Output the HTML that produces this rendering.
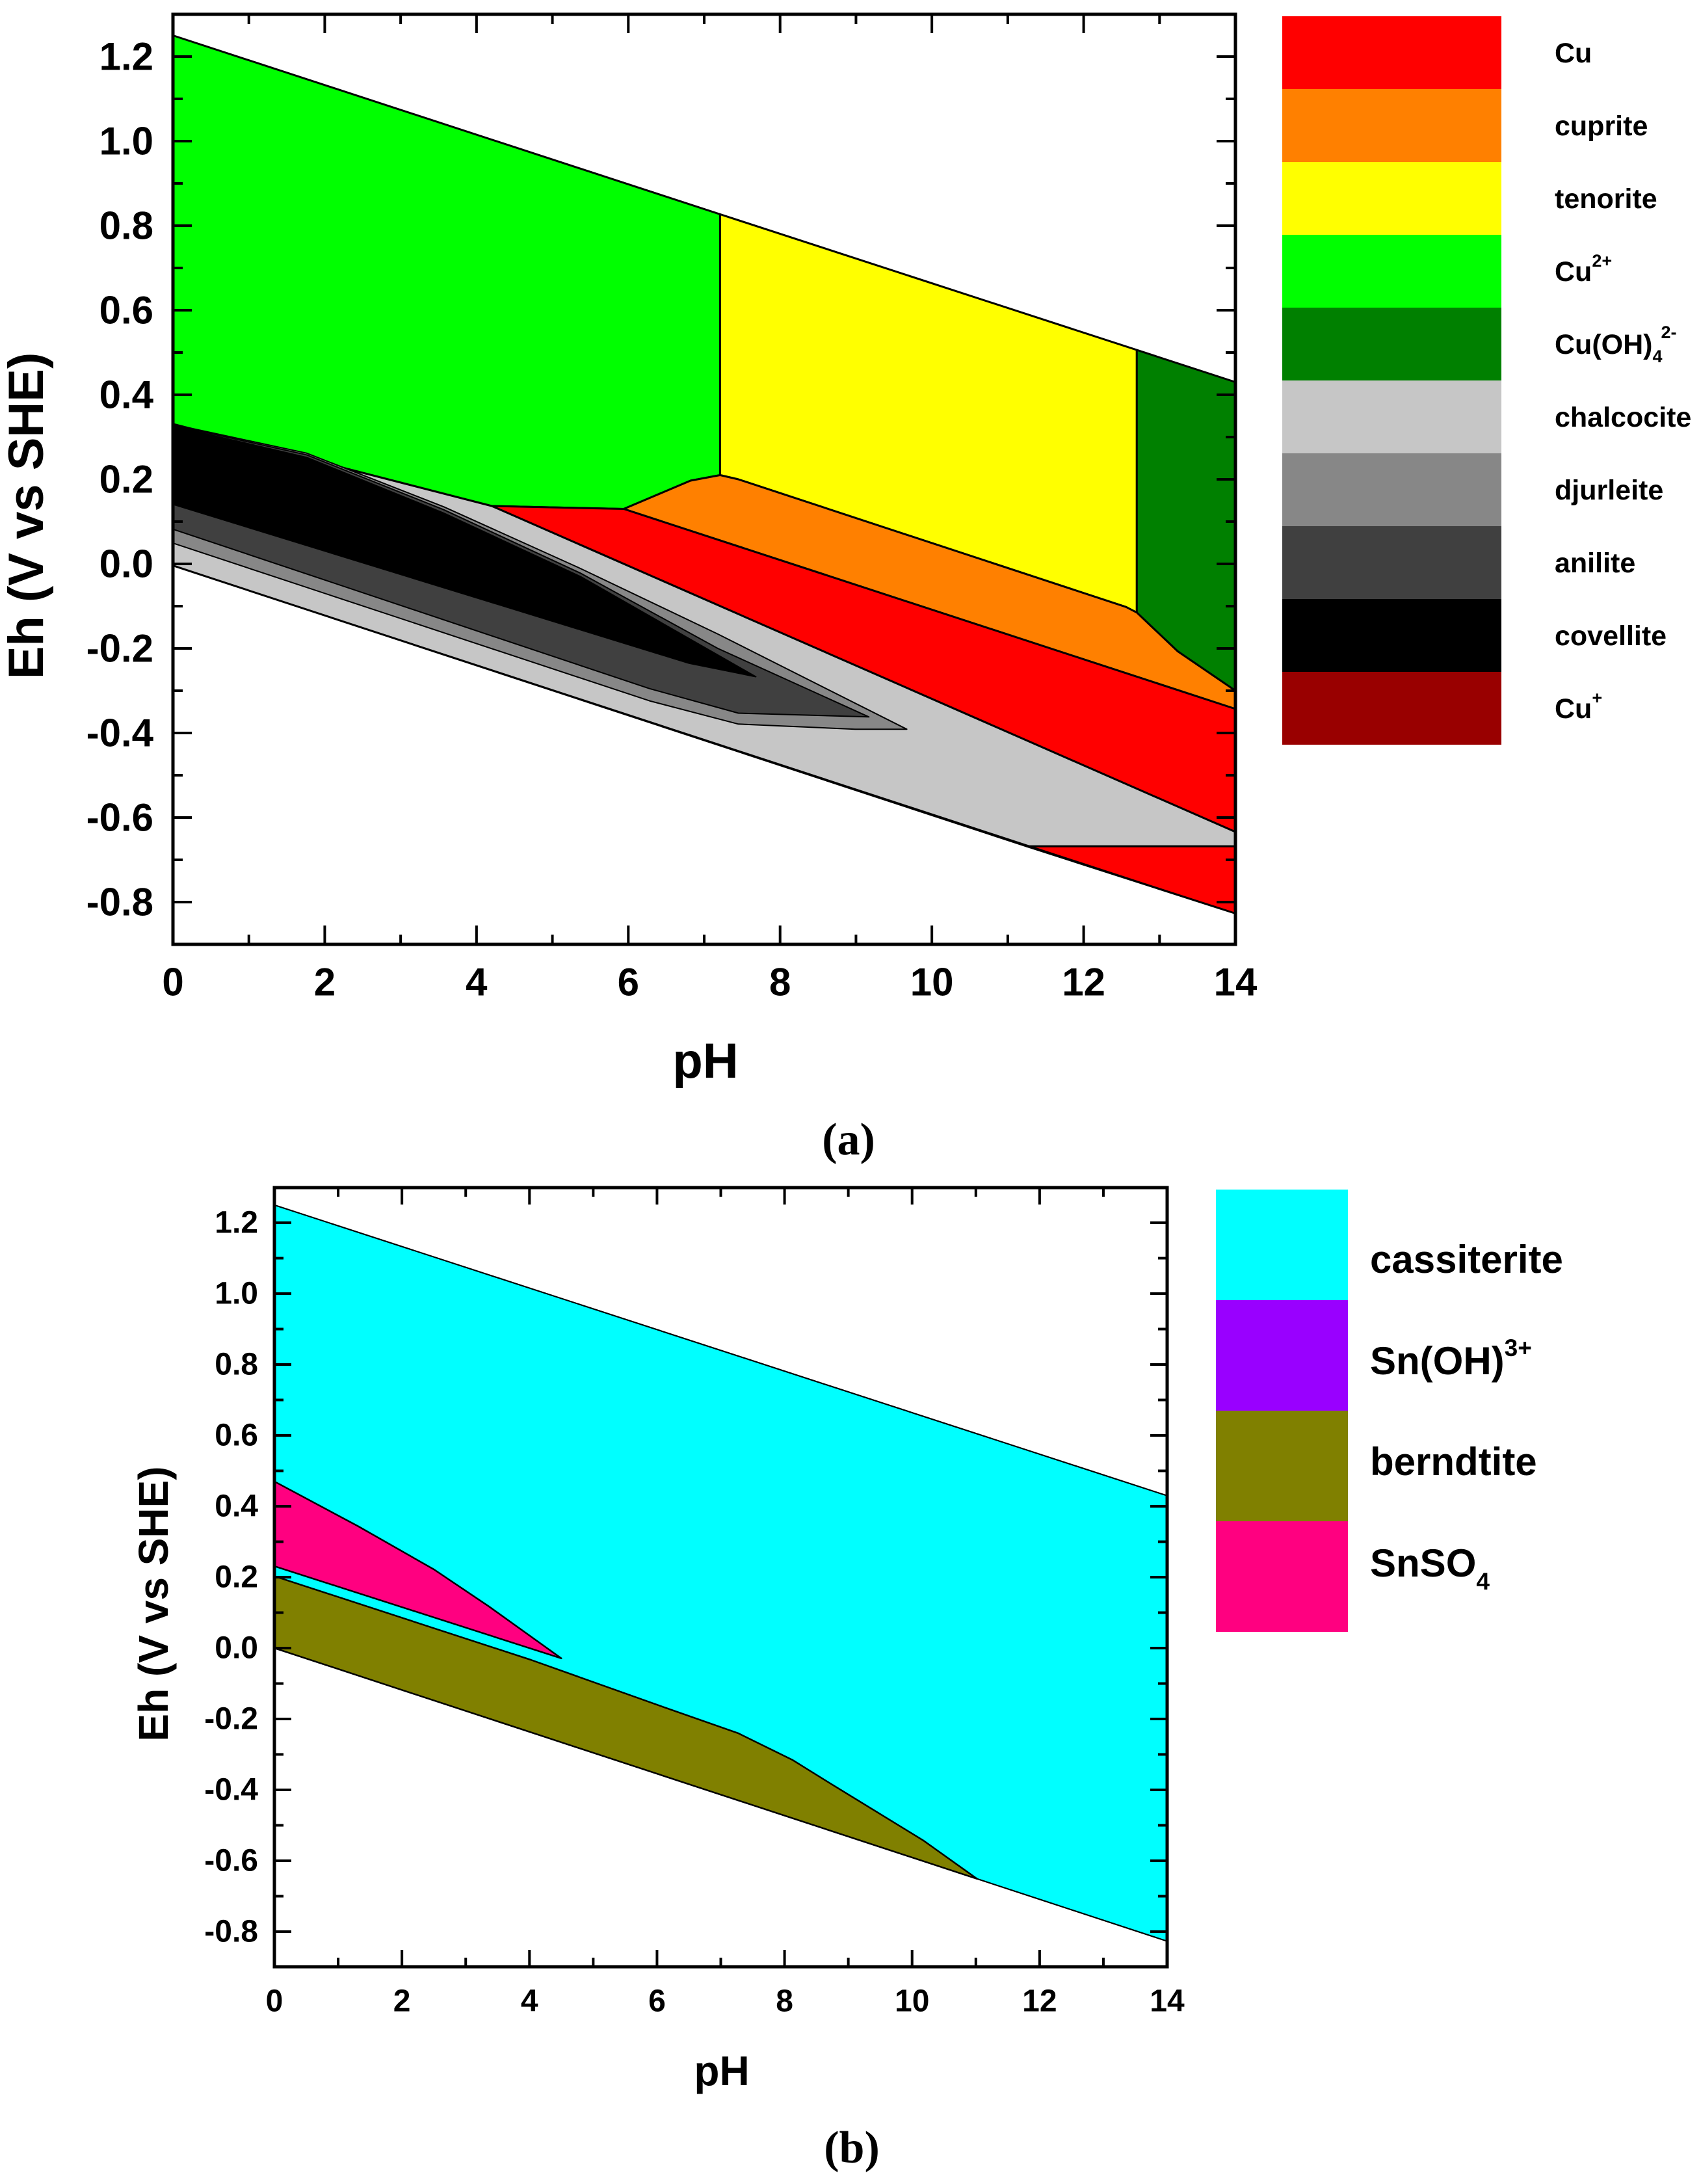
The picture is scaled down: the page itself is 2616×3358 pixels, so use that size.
<!DOCTYPE html>
<html><head><meta charset="utf-8"><style>
html,body{margin:0;padding:0;background:#fff;}
svg{display:block;}
text{font-family:"Liberation Sans",Arial,sans-serif;font-weight:bold;fill:#000;}
.serif{font-family:"Liberation Serif",serif;}
</style></head><body>
<svg id="fig" width="2616" height="3358" viewBox="0 0 2616 3358" xmlns="http://www.w3.org/2000/svg">
<rect x="0" y="0" width="2616" height="3358" fill="#fff"/>
</svg>
<script>
// ---- Chart (a): Cu Eh-pH diagram data (pH, Eh) ----
const aNames = ["Cu","cuprite","tenorite","Cu2+","Cu(OH)4 2-","chalcocite","djurleite","anilite","covellite","Cu+"];
const aColors = ["#ff0000","#ff8000","#ffff00","#00ff00","#008000","#c6c6c6","#878787","#404040","#000000","#990000"];
const aGreen = [[0,1.25],[7.21,0.827],[7.21,0.21],[6.82,0.197],[5.94,0.13],[4.2,0.137],[0,0.331]];
const aYellow = [[7.21,0.827],[12.7,0.506],[12.7,-0.115],[12.56,-0.102],[7.45,0.2],[7.21,0.21]];
const aDkGreen = [[12.7,0.506],[14,0.43],[14,-0.30],[13.24,-0.207],[12.7,-0.115]];
const aOrange = [[5.94,0.13],[6.82,0.197],[7.21,0.21],[7.45,0.2],[12.56,-0.102],[12.7,-0.115],[13.24,-0.207],[14,-0.30],[14,-0.343]];
const aRedUpper = [[4.2,0.137],[5.94,0.13],[14,-0.343],[14,-0.634]];
const aChalcocite = [[0,0.331],[4.2,0.137],[14,-0.634],[14,-0.668],[11.25,-0.668],[0,-0.004]];
const aRedLower = [[11.25,-0.668],[14,-0.668],[14,-0.827]];
const aDjurleite = [[0,0.33],[1.76,0.262],[3.57,0.135],[5.37,-0.011],[7.18,-0.166],[9.67,-0.391],[8.99,-0.391],[7.45,-0.379],[6.28,-0.324],[0,0.049]];
const aAnilite = [[0,0.328],[1.76,0.258],[3.57,0.128],[5.37,-0.022],[7.18,-0.2],[9.17,-0.362],[7.45,-0.353],[6.28,-0.295],[0,0.082]];
const aCovellite = [[0,0.326],[1.76,0.252],[3.57,0.12],[5.37,-0.03],[7.68,-0.267],[6.8,-0.235],[0,0.141]];
const aUpperWater = [[0,1.25],[14,0.43]];
const aLowerWater = [[0,-0.004],[14,-0.827]];

// ---- Chart (b): Sn Eh-pH diagram data ----
const bNames = ["cassiterite","Sn(OH)3+","berndtite","SnSO4"];
const bColors = ["#00ffff","#9900ff","#808000","#ff0080"];
const bCassiterite = [[0,1.25],[14,0.43],[14,-0.827],[11.02,-0.651],[0,0.0]];
const bBerndtite = [[0,0.203],[4.02,-0.033],[6.08,-0.165],[7.27,-0.240],[8.12,-0.315],[8.80,-0.391],[10.17,-0.542],[11.02,-0.651],[0,0.0]];
const bSnSO4 = [[0,0.470],[1.31,0.344],[2.50,0.222],[3.36,0.118],[4.50,-0.029],[0,0.231]];

const xTicks = [0,2,4,6,8,10,12,14];
const yTicks = [1.2,1.0,0.8,0.6,0.4,0.2,0.0,-0.2,-0.4,-0.6,-0.8];

const NS = "http://www.w3.org/2000/svg";
const svg = document.getElementById('fig');
function el(tag, attrs, parent){ const e=document.createElementNS(NS,tag); for(const k in attrs) e.setAttribute(k,attrs[k]); (parent||svg).appendChild(e); return e; }

function makeAxes(L,R,x0px,x14px,y0px,pxPerV,top,bottom){
  return {
    x: v => x0px + (x14px-x0px)*v/14,
    y: v => y0px - pxPerV*v,
    L,R,top,bottom
  };
}
function poly(ax, pts, fill, name, sw){
  const p = el('polygon',{points: pts.map(q=>ax.x(q[0]).toFixed(1)+','+ax.y(q[1]).toFixed(1)).join(' '), fill, stroke:'#000','stroke-width':sw||3,'stroke-linejoin':'round'});
  
  
  return p;
}
function line(ax, pts, name){
  const p = el('polyline',{points: pts.map(q=>ax.x(q[0]).toFixed(1)+','+ax.y(q[1]).toFixed(1)).join(' '), fill:'none', stroke:'#000','stroke-width':2});
  
  
}
function frame(ax, tickFont, xLabY, yLabR, majLen, minLen, prefix){
  const g = el('g',{});
  
  
  el('rect',{x:ax.L,y:ax.top,width:ax.R-ax.L,height:ax.bottom-ax.top,fill:'none',stroke:'#000','stroke-width':5},g);
  for(let v=0; v<=14; v++){
    const len = v%2===0 ? majLen : minLen;
    const x = ax.x(v);
    el('line',{x1:x,y1:ax.bottom,x2:x,y2:ax.bottom-len,stroke:'#000','stroke-width':4},g);
    el('line',{x1:x,y1:ax.top,x2:x,y2:ax.top+len,stroke:'#000','stroke-width':4},g);
  }
  for(let i=-9;i<=13;i++){
    const v=i/10; const len = (i%2===0) ? majLen : minLen;
    const y = ax.y(v);
    if(y<ax.top+2||y>ax.bottom-2) continue;
    el('line',{x1:ax.L,y1:y,x2:ax.L+len,y2:y,stroke:'#000','stroke-width':4},g);
    el('line',{x1:ax.R,y1:y,x2:ax.R-len,y2:y,stroke:'#000','stroke-width':4},g);
  }
  xTicks.forEach(v=>{
    const t = el('text',{x:ax.x(v),y:xLabY,'text-anchor':'middle','dominant-baseline':'central','font-size':tickFont},g);
    t.textContent = String(v);
    
    
  });
  yTicks.forEach(v=>{
    const t = el('text',{x:yLabR,y:ax.y(v),'text-anchor':'end','dominant-baseline':'central','font-size':tickFont},g);
    t.textContent = v.toFixed(1);
    
    
  });
}

// ===== Chart A =====
const A = makeAxes(266,1900,266,1900,867,650,22,1452);
poly(A,aGreen,aColors[3],'region-cu2plus');
poly(A,aYellow,aColors[2],'region-tenorite');
poly(A,aDkGreen,aColors[4],'region-cu-oh4');
poly(A,aOrange,aColors[1],'region-cuprite');
poly(A,aRedUpper,aColors[0],'region-cu-upper');
poly(A,aChalcocite,aColors[5],'region-chalcocite');
poly(A,aRedLower,aColors[0],'region-cu-lower');
poly(A,aDjurleite,aColors[6],'region-djurleite',2);
poly(A,aAnilite,aColors[7],'region-anilite',2);
poly(A,aCovellite,aColors[8],'region-covellite',2);
line(A,aUpperWater,'a-upper-water-line');
line(A,aLowerWater,'a-lower-water-line');
frame(A,60,1510,236,29,15,'a');

// legend A
aNames.forEach((n,i)=>{
  const r = el('rect',{x:1972,y:25+112*i,width:337,height:112,fill:aColors[i]});
  
  
});
const aLabels = ['Cu','cuprite','tenorite',null,null,'chalcocite','djurleite','anilite','covellite',null];
aLabels.forEach((n,i)=>{
  if(!n) return;
  const t = el('text',{x:2391,y:25+112*i+56+15,'font-size':43});
  t.textContent = n;
  
  
});
(function(){
  let t = el('text',{x:2391,y:25+112*3+71,'font-size':43});
  t.innerHTML = 'Cu<tspan dy="-22" font-size="27">2+</tspan>';
   
  t = el('text',{x:2391,y:25+112*4+71,'font-size':43});
  t.innerHTML = 'Cu(OH)<tspan dy="13" font-size="27">4</tspan><tspan dy="-37" dx="-2" font-size="27">2-</tspan>';
   
  t = el('text',{x:2391,y:25+112*9+71,'font-size':43});
  t.innerHTML = 'Cu<tspan dy="-22" font-size="27">+</tspan>';
   
})();

let ta = el('text',{x:0,y:0,'font-size':76,'text-anchor':'middle',transform:'translate(66,793) rotate(-90)'});
ta.textContent='Eh (V vs SHE)';
 
ta = el('text',{x:1085,y:1657,'font-size':76,'text-anchor':'middle'});
ta.textContent='pH';
 
ta = el('text',{x:1305,y:1775,'font-size':70,'text-anchor':'middle','class':'serif'});
ta.textContent='(a)';
 

// ===== Chart B =====
const B = makeAxes(422,1795,422,1795,2534,545,1826,3024);
poly(B,bCassiterite,bColors[0],'region-cassiterite',2);
poly(B,bBerndtite,bColors[2],'region-berndtite',2.5);
poly(B,bSnSO4,bColors[3],'region-snso4',2.5);
line(B,[[0,1.25],[14,0.43]],'b-upper-water-line');
line(B,[[0,0],[14,-0.827]],'b-lower-water-line');
frame(B,48,3077,397,26,14,'b');

bNames.forEach((n,i)=>{
  const r = el('rect',{x:1870,y:1829+170*i,width:203,height:170,fill:bColors[i]});
  
  
});
(function(){
  const ys=[1957,2113,2268,2424];
  let t = el('text',{x:2107,y:ys[0],'font-size':60}); t.textContent='cassiterite';
   
  t = el('text',{x:2107,y:ys[1],'font-size':60}); t.innerHTML='Sn(OH)<tspan dy="-28" font-size="37">3+</tspan>';
   
  t = el('text',{x:2107,y:ys[2],'font-size':60}); t.textContent='berndtite';
   
  t = el('text',{x:2107,y:ys[3],'font-size':60}); t.innerHTML='SnSO<tspan dy="20" font-size="37">4</tspan>';
   
})();

let tb = el('text',{x:0,y:0,'font-size':64,'text-anchor':'middle',transform:'translate(258,2466) rotate(-90)'});
tb.textContent='Eh (V vs SHE)';
 
tb = el('text',{x:1110,y:3206,'font-size':64,'text-anchor':'middle'});
tb.textContent='pH';
 
tb = el('text',{x:1310,y:3325,'font-size':70,'text-anchor':'middle','class':'serif'});
tb.textContent='(b)';
 
</script>
</body></html>
